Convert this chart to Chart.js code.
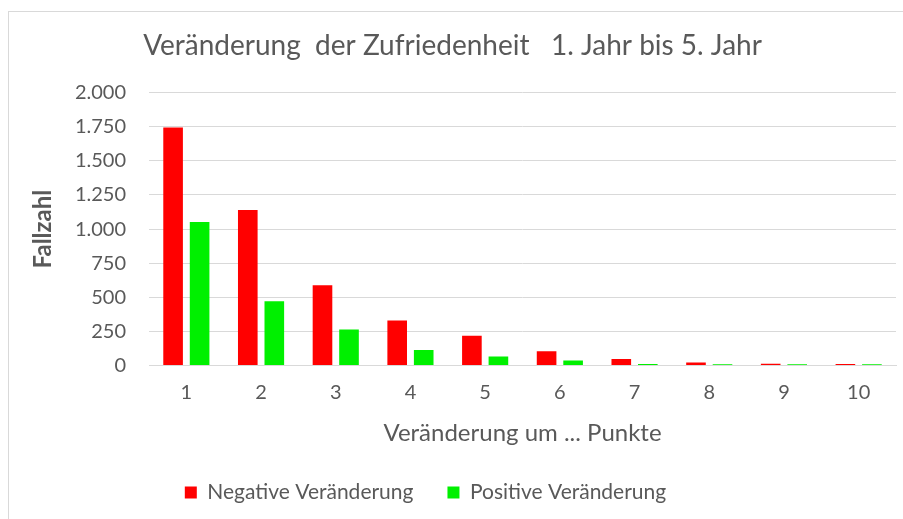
<!DOCTYPE html>
<html>
<head>
<meta charset="utf-8">
<script src="https://cdn.jsdelivr.net/npm/chart.js@4"></script>
<style>
  html, body { margin: 0; padding: 0; background: #fff; }
  body { width: 903px; height: 519px; overflow: hidden; position: relative; }
  #frame {
    position: absolute; left: 8px; top: 11px; width: 895px; height: 508px;
    border-left: 1px solid #d9d9d9; border-top: 1px solid #d9d9d9;
    box-sizing: border-box;
  }
  #chartBox { position: absolute; left: 0; top: 0; width: 894px; height: 507px; }
</style>
</head>
<body>
<div id="frame"><div id="chartBox"><canvas id="zufriedenChart"></canvas></div></div>
<script>
// Veränderung um ... Punkte
const categories = ['1', '2', '3', '4', '5', '6', '7', '8', '9', '10'];
const negativeValues = [1745, 1140, 588, 330, 218, 105, 48, 22, 14, 12];
const positiveValues = [1052, 472, 264, 115, 66, 37, 12, 10, 10, 10];
const yTickLabels = ['0', '250', '500', '750', '1.000', '1.250', '1.500', '1.750', '2.000'];

const textGray = '#595959';
const fontFamily = 'Lato, "Open Sans", sans-serif';

// shift legend a bit to the left like in the original
const legendShift = {
  id: 'legendShift',
  afterLayout(chart) {
    if (chart.legend) {
      chart.legend.left -= 27;
      chart.legend.right -= 27;
    }
  }
};

const ctx = document.getElementById('zufriedenChart').getContext('2d');
window.zufriedenChart = new Chart(ctx, {
  type: 'bar',
  data: {
    labels: categories,
    datasets: [
      {
        label: 'Negative Veränderung',
        data: negativeValues,
        backgroundColor: '#ff0000',
        categoryPercentage: 0.71,
        barPercentage: 0.74
      },
      {
        label: 'Positive Veränderung',
        data: positiveValues,
        backgroundColor: '#00f000',
        categoryPercentage: 0.71,
        barPercentage: 0.74
      }
    ]
  },
  options: {
    responsive: true,
    maintainAspectRatio: false,
    animation: false,
    devicePixelRatio: 1,
    layout: { padding: { left: 0, right: 7, top: 0, bottom: 6 } },
    scales: {
      x: {
        grid: { display: false, drawTicks: false },
        border: { color: '#d9d9d9', width: 1 },
        ticks: { color: textGray, font: { family: fontFamily, size: 20, lineHeight: 1 }, padding: 17 },
        title: {
          display: true,
          text: 'Veränderung um ... Punkte',
          color: textGray,
          font: { family: fontFamily, size: 24, lineHeight: 1.1 },
          padding: { top: 0, bottom: 2 }
        }
      },
      y: {
        min: 0,
        max: 2000,
        afterFit(scale) { scale.width = 140; },
        grid: { color: '#d9d9d9', drawTicks: false },
        border: { display: false },
        ticks: {
          stepSize: 250,
          color: textGray,
          font: { family: fontFamily, size: 20 },
          padding: 23,
          callback: (v, i) => yTickLabels[i]
        },
        title: {
          display: true,
          text: 'Fallzahl',
          color: textGray,
          font: { family: fontFamily, size: 24, weight: 'bold' },
          padding: { top: 20, bottom: 0 }
        }
      }
    },
    plugins: {
      title: {
        display: true,
        text: 'Veränderung  der Zufriedenheit   1. Jahr bis 5. Jahr',
        color: textGray,
        font: { family: fontFamily, size: 28, weight: 'normal' },
        padding: { top: 17, bottom: 30 }
      },
      legend: {
        position: 'bottom',
        labels: {
          color: textGray,
          font: { family: fontFamily, size: 21 },
          boxWidth: 12,
          boxHeight: 12,
          padding: 34
        }
      },
      tooltip: { enabled: false }
    }
  },
  plugins: [legendShift]
});
</script>
</body>
</html>
